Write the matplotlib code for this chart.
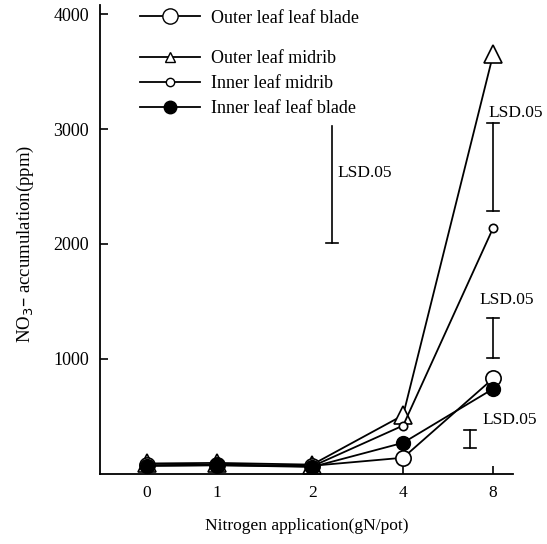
import matplotlib
matplotlib.use("Agg")
import matplotlib.pyplot as plt
from matplotlib.lines import Line2D

# ---- data ----
n_levels = ["0", "1", "2", "4", "8"]
outer_blade = [75, 80, 70, 140, 830]
outer_midrib = [90, 95, 80, 510, 3650]
inner_midrib = [70, 75, 65, 420, 2140]
inner_blade = [70, 75, 60, 270, 740]
y_ticks = [1000, 2000, 3000, 4000]

# LSD.05 bars: (x position, low, high)
lsd_bars = [(2.14, 2010, 3030), (4.0, 2290, 3050), (4.0, 1010, 1355), (3.73, 225, 385)]

# ---- layout ----
x_pos = [0, 0.81, 1.91, 2.96, 4.0]

plt.rcParams['font.family'] = ['Liberation Serif', 'DejaVu Serif']
fig = plt.figure(figsize=(5.47, 5.44), dpi=100)
ax = fig.add_axes([0.183, 0.129, 0.755, 0.862])

lw = 1.3
ax.plot(x_pos, outer_midrib, color='black', lw=lw, marker='^', ms=13,
        mfc='white', mec='black', mew=1.2, zorder=2)
ax.plot(x_pos, inner_midrib, color='black', lw=lw, marker='o', ms=6,
        mfc='white', mec='black', mew=1.2, zorder=3)
ax.plot(x_pos, outer_blade, color='black', lw=lw, marker='o', ms=11,
        mfc='white', mec='black', mew=1.2, zorder=4)
ax.plot(x_pos, inner_blade, color='black', lw=lw, marker='o', ms=10,
        mfc='black', mec='black', zorder=5)

# LSD bars
for i, (bx, lo, hi) in enumerate(lsd_bars):
    ax.plot([bx, bx], [lo, hi], color='black', lw=1.2)
    w = 0.07
    ax.plot([bx - w, bx + w], [lo, lo], color='black', lw=1.2)
    if i != 0:
        ax.plot([bx - w, bx + w], [hi, hi], color='black', lw=1.2)

fs_lsd = 12.5
ax.text(2.2, 2620, "LSD.05", fontsize=fs_lsd, va='center', ha='left')
ax.text(3.95, 3140, "LSD.05", fontsize=fs_lsd, va='center', ha='left')
ax.text(3.84, 1510, "LSD.05", fontsize=fs_lsd, va='center', ha='left')
ax.text(3.88, 470, "LSD.05", fontsize=fs_lsd, va='center', ha='left')

ax.set_xlim(-0.54, 4.23)
ax.set_ylim(0, 4080)
ax.set_xticks(x_pos)
ax.set_xticklabels(n_levels, fontsize=12.5)
ax.set_yticks(y_ticks)
ax.set_yticklabels([str(t) for t in y_ticks], fontsize=13)
ax.tick_params(axis='both', direction='in', length=6, width=1.2, pad=8)
for s in ['top', 'right']:
    ax.spines[s].set_visible(False)
for s in ['left', 'bottom']:
    ax.spines[s].set_linewidth(1.3)

ax.set_xlabel("Nitrogen application(gN/pot)", fontsize=12.5, labelpad=12)
ax.set_ylabel("NO$_3$– accumulation(ppm)", fontsize=13.5)
ax.yaxis.set_label_coords(-0.155, 0.49)

# legends
h1 = Line2D([], [], color='black', lw=lw, marker='o', ms=11, mfc='white', mec='black')
h2 = Line2D([], [], color='black', lw=lw, marker='^', ms=7, mfc='white', mec='black')
h3 = Line2D([], [], color='black', lw=lw, marker='o', ms=6, mfc='white', mec='black')
h4 = Line2D([], [], color='black', lw=lw, marker='o', ms=9, mfc='black', mec='black')
leg_kw = dict(frameon=False, fontsize=13, handlelength=3.3, handletextpad=0.6,
              borderaxespad=0, borderpad=0)
leg1 = ax.legend([h1], ["Outer leaf leaf blade"], loc='center left',
                 bbox_to_anchor=(0.097, 0.972), **leg_kw)
ax.add_artist(leg1)
ax.legend([h2, h3, h4], ["Outer leaf midrib", "Inner leaf midrib", "Inner leaf leaf blade"],
          loc='center left', bbox_to_anchor=(0.097, 0.832), labelspacing=0.45, **leg_kw)

fig.savefig("out.png", dpi=100)
